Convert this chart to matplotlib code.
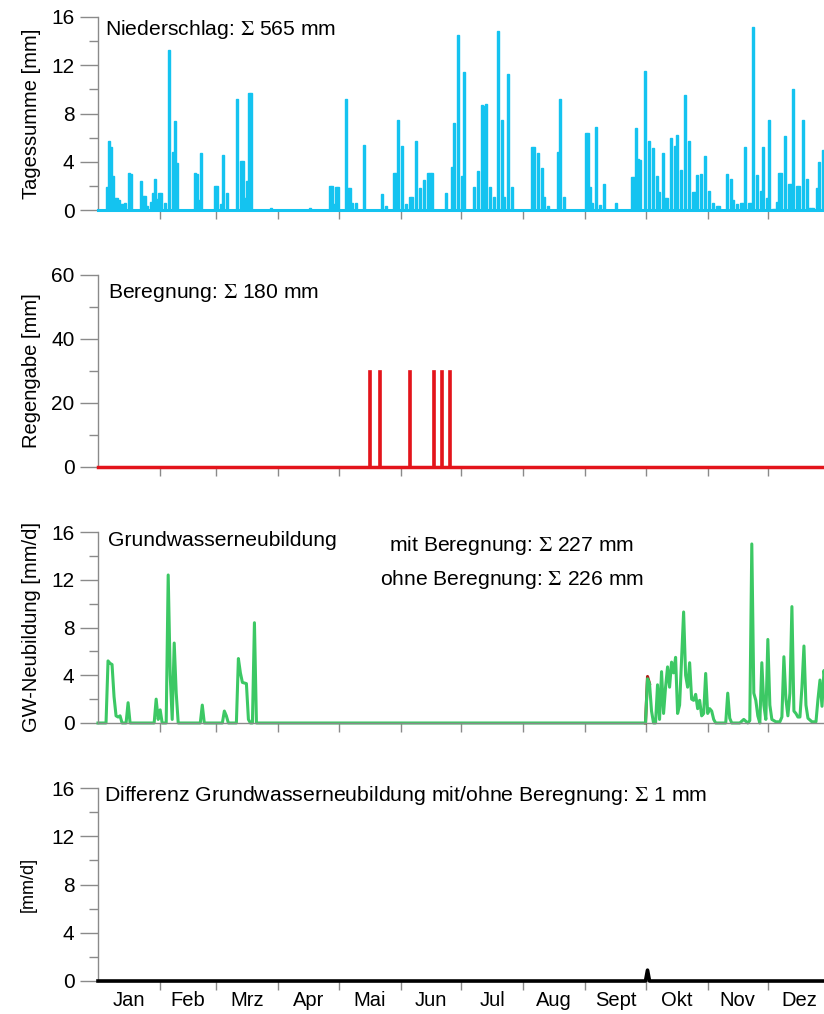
import matplotlib
matplotlib.use("Agg")
import matplotlib.pyplot as plt
from matplotlib import font_manager
from matplotlib.ticker import MultipleLocator

plt.rcParams['font.family'] = ['Liberation Sans', 'DejaVu Sans']
plt.rcParams['mathtext.fontset'] = 'stix'

# --- data (day of year) ---
months = ["Jan", "Feb", "Mrz", "Apr", "Mai", "Jun", "Jul", "Aug", "Sept", "Okt", "Nov", "Dez"]
month_ends = [31, 59, 90, 120, 151, 181, 212, 243, 273, 304, 334]
month_mids = [15.5, 45, 74.5, 105, 135.5, 166, 196.5, 227.5, 258, 288.5, 319, 349.5]

# Niederschlag (Tagessumme mm)
precip_day = [4, 5, 6, 7, 8, 9, 10, 11, 12, 13, 15, 16, 21, 22, 23, 24, 26, 27, 28, 29,
              30, 31, 33, 35, 37, 38, 39, 48, 49, 50, 51, 58, 59, 61, 62, 64, 69, 71, 72, 73,
              74, 75, 76, 86,
              105, 115, 116, 117, 118, 119, 123, 124, 125, 126, 128, 132, 141, 143, 147, 148,
              149, 151, 153, 155, 156, 158, 160, 162, 164, 165, 166, 173, 176, 177, 179, 181, 182,
              187, 189, 191, 192, 193, 195, 197, 199, 201, 202, 204, 206, 216, 217, 219, 221,
              222, 224, 229, 230, 232, 243, 244, 245, 246, 248, 250, 252, 258, 266, 267, 268,
              269, 270,
              272, 274, 276, 278, 279, 281, 282, 283, 285, 287, 288, 290, 292, 294, 296, 297,
              298, 300, 302, 304, 306, 308, 309, 313, 315, 316, 318, 320, 321, 322, 324, 325,
              326, 328, 330, 331, 333, 334, 336, 337, 338, 339, 340, 342, 344, 345, 346, 348,
              349, 351, 353, 354, 355, 356, 358, 359, 361]
precip_mm = [1.9, 5.7, 5.2, 2.8, 1.0, 1.0, 0.8, 0.5, 0.5, 0.6, 3.1, 3.0, 2.4, 1.2, 1.2, 0.3, 0.7, 1.4, 2.6, 0.9,
             1.4, 1.4, 0.6, 13.3, 4.8, 7.4, 3.9, 3.1, 3.0, 0.8, 4.7, 2.0, 2.0, 0.5, 4.6, 1.4, 9.2, 4.1, 4.1, 1.0,
             2.4, 9.7, 9.7, 0.2,
             0.15, 2.0, 2.0, 0.5, 1.9, 1.9, 9.2, 1.8, 1.8, 0.6, 0.6, 5.4, 1.3, 0.3, 3.1, 3.1,
             7.5, 5.3, 0.5, 1.1, 1.1, 5.7, 1.85, 2.5, 3.1, 3.1, 3.1, 1.4, 3.6, 7.2, 14.5, 2.8, 11.4,
             1.9, 3.2, 8.7, 8.6, 8.8, 1.9, 1.1, 14.8, 7.5, 1.1, 11.3, 1.9, 5.2, 5.2, 4.7, 3.45,
             1.1, 0.3, 4.8, 9.2, 1.1, 6.35, 6.35, 1.9, 0.6, 6.85, 0.4, 2.15, 0.6, 2.7, 2.7, 6.8,
             4.2, 4.15,
             11.5, 5.7, 5.1, 2.8, 1.5, 4.7, 1.0, 1.0, 6.0, 5.3, 6.2, 3.3, 9.5, 5.75, 1.5, 1.5,
             2.9, 3.0, 4.5, 1.6, 0.6, 0.3, 0.3, 3.0, 2.6, 0.8, 0.5, 0.6, 0.6, 5.2, 0.6, 0.6,
             15.2, 2.9, 1.6, 5.2, 1.0, 7.5, 0.1, 0.1, 0.7, 3.1, 3.1, 6.1, 2.15, 2.15, 10.0, 2.0,
             2.0, 7.5, 2.6, 0.2, 0.2, 0.2, 1.8, 3.95, 5.0]

# Beregnung (mm)
irr_day = [135, 140, 155, 167, 171, 175]
irr_mm = [30, 30, 30, 30, 30, 30]

# Grundwasserneubildung ohne Beregnung (mm/d)
gw_day = [0, 4, 5, 6, 7, 8, 9, 10, 11, 12, 14, 15, 16, 28, 29, 30, 31, 32, 34, 35,
          36, 37, 38, 39, 40, 51, 52, 53, 62, 63, 64, 65, 69, 70, 71, 72, 74, 75, 76, 77,
          78, 79,
          273, 274, 275, 276, 277, 278, 279, 280, 281, 282, 283, 284, 285, 286, 287, 288, 289, 290,
          292, 293, 294, 295, 296, 297, 298, 299, 300, 301, 302, 303, 304, 305, 306, 307, 308, 313,
          314, 315, 316, 320, 322, 324, 325, 326, 327, 328, 329, 330, 331, 332, 333, 334, 335, 336,
          338, 340, 341, 342, 343, 344, 345, 346, 347, 348, 349, 350, 351, 352, 353, 354, 356, 358,
          359, 360, 361, 362, 365]
gw_ohne = [0, 0, 5.2, 5.0, 4.9, 2.2, 0.6, 0.5, 0.6, 0, 0, 1.7, 0, 0, 2.0, 0.3, 1.1, 0, 0, 12.4,
           4.0, 0.3, 6.7, 2.5, 0, 0, 1.5, 0, 0, 1.0, 0.6, 0, 0, 5.4, 4.2, 3.4, 3.3, 0.3, 0, 0,
           8.4, 0,
           0, 3.7, 3.3, 1.0, 0, 0, 3.2, 0.3, 4.3, 0.8, 3.0, 4.7, 3.0, 5.1, 4.2, 5.5, 0.8, 1.5,
           9.3, 4.0, 3.0, 5.05, 2.0, 1.9, 2.4, 1.2, 1.9, 0.6, 0.8, 4.15, 0.8, 1.2, 1.0, 0.3, 0, 0,
           2.5, 0.4, 0, 0, 0.3, 0, 0.2, 15.0, 2.5, 1.9, 0.6, 0, 5.05, 1.5, 0.3, 7.0, 1.5, 0.3,
           0.1, 0.1, 0.5, 5.55, 2.0, 0.6, 2.5, 9.75, 1.0, 0.8, 0.5, 0.5, 3.0, 6.45, 1.5, 0.4, 0.1, 0.1,
           2.0, 3.6, 1.4, 4.4, 0]
# mit Beregnung: only differs around the start of October
gw_mit_day = [273, 274, 275]
gw_mit = [0, 3.9, 3.3]

# Differenz mit/ohne (mm/d)
diff_day = [0, 273, 274, 275, 365]
diff_val = [0, 0, 0.9, 0, 0]

# --- styling ---
blue = '#14C3F0'
red = '#E3141B'
green = '#3CC864'
grey = '#8a8a8a'

narrow = 'Liberation Sans'
names = {f.name for f in font_manager.fontManager.ttflist}
if 'Liberation Sans Narrow' in names:
    narrow = 'Liberation Sans Narrow'

fig = plt.figure(figsize=(8.24, 10.14), dpi=100)
left, width = 98 / 824, 726 / 824
ax1 = fig.add_axes([left, 1 - 210 / 1014, width, 193 / 1014])
ax2 = fig.add_axes([left, 1 - 467 / 1014, width, 192 / 1014])
ax3 = fig.add_axes([left, 1 - 723 / 1014, width, 191 / 1014])
ax4 = fig.add_axes([left, 1 - 981 / 1014, width, 193 / 1014])


def style(ax, ymax, major, minor, font):
    ax.set_xlim(0, 362)
    ax.set_ylim(0, ymax)
    for s in ['top', 'right']:
        ax.spines[s].set_visible(False)
    for s in ['left', 'bottom']:
        ax.spines[s].set_color(grey)
        ax.spines[s].set_linewidth(1.0)
    ax.yaxis.set_major_locator(MultipleLocator(major))
    ax.yaxis.set_minor_locator(MultipleLocator(minor))
    ax.set_xticks(month_ends)
    ax.set_xticklabels([])
    ax.tick_params(axis='y', which='major', length=13, width=1, color=grey, pad=4, labelsize=15)
    ax.tick_params(axis='y', which='minor', length=6.5, width=1, color=grey)
    ax.tick_params(axis='x', which='major', length=6.5, width=1, color=grey)
    for lab in ax.get_yticklabels():
        lab.set_family(font)


# Niederschlag
ax1.bar(precip_day, precip_mm, width=1.0, align='edge', color=blue, edgecolor=blue, linewidth=1.0)
ax1.axhline(0, color=blue, lw=2.2, clip_on=False, zorder=3)
style(ax1, 16, 4, 2, 'Liberation Sans')
ax1.set_ylabel("Tagessumme [mm]", fontsize=14.5)
ax1.yaxis.set_label_coords(-0.078, 0.5)
ax1.text(0.0096, 0.933, r"Niederschlag: $\Sigma$ 565 mm", transform=ax1.transAxes,
         fontsize=15.2, va='center', ha='left')

# Beregnung
ax2.bar(irr_day, irr_mm, width=1.0, align='edge', color=red, edgecolor=red, linewidth=1.2)
ax2.axhline(0, color=red, lw=2.5, clip_on=False, zorder=3)
style(ax2, 60, 20, 10, 'Liberation Sans')
ax2.set_ylabel("Regengabe [mm]", fontsize=14.5)
ax2.yaxis.set_label_coords(-0.078, 0.5)
ax2.text(0.014, 0.906, r"Beregnung: $\Sigma$ 180 mm", transform=ax2.transAxes,
         fontsize=15.2, va='center', ha='left')

# Grundwasserneubildung
ax3.plot(gw_mit_day, gw_mit, color='#B0201A', lw=2.2, clip_on=False)
ax3.plot(gw_day, gw_ohne, color=green, lw=2.2, clip_on=False)
style(ax3, 16, 4, 2, 'Liberation Sans')
ax3.set_ylabel("GW-Neubildung [mm/d]", fontsize=14.5)
ax3.yaxis.set_label_coords(-0.078, 0.5)
ax3.text(0.014, 0.953, "Grundwasserneubildung", transform=ax3.transAxes,
         fontsize=15.2, va='center', ha='left')
ax3.text(0.570, 0.927, r"mit Beregnung: $\Sigma$ 227 mm", transform=ax3.transAxes,
         fontsize=15.2, va='center', ha='center')
ax3.text(0.570, 0.749, r"ohne Beregnung: $\Sigma$ 226 mm", transform=ax3.transAxes,
         fontsize=15.2, va='center', ha='center')

# Differenz
ax4.plot(diff_day, diff_val, color='black', lw=2.6, clip_on=False, zorder=3)
style(ax4, 16, 4, 2, narrow)
ax4.set_ylabel("[mm/d]", fontsize=13, family=narrow)
ax4.yaxis.set_label_coords(-0.085, 0.5)
ax4.set_xticks(month_mids, minor=True)
ax4.set_xticklabels(months, minor=True, family=narrow, fontsize=14.5)
ax4.tick_params(axis='x', which='minor', length=0, pad=7)
ax4.text(0.008, 0.959, r"Differenz Grundwasserneubildung mit/ohne Beregnung: $\Sigma$ 1 mm",
         transform=ax4.transAxes, fontsize=15.3, va='center', ha='left', family=narrow)

fig.savefig("out.png", dpi=100)
